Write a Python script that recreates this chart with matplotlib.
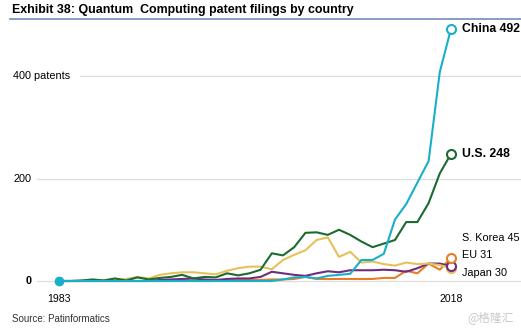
import matplotlib
matplotlib.use("Agg")
import matplotlib.pyplot as plt
import matplotlib.transforms as mtransforms

# data (patent filings per year)
years = list(range(1983, 2019))
china = [0] * 20 + [3, 7, 8, 5, 10, 12, 14, 41, 41, 53, 120, 150, 192, 234, 408, 492]
us = [0, 0, 1, 3, 1, 5, 1, 7, 3, 6, 8, 12, 5, 8, 7, 15, 11,
      15, 22, 54, 50, 66, 94, 95, 90, 100, 90, 77, 66, 73, 80, 115, 115, 152, 210, 248]
yellow = [0, 0, 0, 1, 2, 3, 4, 8, 5, 12, 15, 17, 17, 15, 13, 20, 25,
          28, 28, 23, 41, 51, 60, 80, 85, 47, 57, 36, 38, 33, 30, 36, 33, 34, 31, 25]
purple = [0, 0, 0, 0, 0, 0, 0, 0, 0, 2, 3, 4, 5, 3, 2, 4, 5,
          5, 8, 18, 15, 12, 10, 15, 19, 17, 21, 21, 21, 22, 21, 18, 25, 34, 34, 29]
orange = [0, 0, 0, 0, 0, 0, 0, 0, 0, 0, 1, 1, 1, 1, 1, 1, 2,
          2, 2, 3, 3, 4, 8, 4, 4, 4, 4, 4, 4, 6, 6, 20, 15, 34, 22, 45]

labels_bold = [("China 492", china), ("U.S. 248", us)]
labels_small = ["S. Korea 45", "EU 31", "Japan 30"]
yticks = [0, 200, 400]
ytick_labels = ["0", "200", "400 patents"]
title = "Exhibit 38: Quantum  Computing patent filings by country"
source = "Source: Patinformatics"

C_CHINA = "#1aafc8"
C_US = "#1b6b30"
C_YEL = "#e8c05a"
C_ORA = "#e97d25"
C_PUR = "#6e2e80"

# no narrow face available, so Liberation Sans at smaller sizes to keep the widths
plt.rcParams["font.family"] = ["Liberation Sans", "DejaVu Sans"]

W, H = 521, 332
fig = plt.figure(figsize=(W / 100, H / 100), dpi=100)

# axes: px 37..521 horizontally, px 20..290 vertically
ax = fig.add_axes([37 / W, 1 - 290 / H, (521 - 37) / W, (290 - 20) / H])
ax.set_xlim(1983 - 22 / 11.2, 2018 + 70 / 11.2)
ax.set_ylim(-9 / 0.5125, 261 / 0.5125)
ax.axis("off")

# gridlines
for v in yticks:
    start = 80 if v == 400 else 37
    ax.axhline(v, xmin=(start - 37) / (521 - 37), xmax=1, color="#dddddd", lw=0.9, zorder=0)

lw = 1.5
ax.plot(years, orange, color=C_ORA, lw=lw, zorder=2)
ax.plot(years, purple, color=C_PUR, lw=lw, zorder=2)
ax.plot(years, yellow, color=C_YEL, lw=lw, zorder=2)
ax.plot(years, us, color=C_US, lw=lw, zorder=3)
ax.plot(years, china, color=C_CHINA, lw=lw, zorder=4)

# start dot and end circles
ax.plot(years[0], china[0], "o", color=C_CHINA, ms=6, zorder=5)
for s, c, z in [(yellow, C_YEL, 5), (purple, C_PUR, 6), (orange, C_ORA, 7), (us, C_US, 6), (china, C_CHINA, 6)]:
    ax.plot(years[-1], s[-1], "o", mfc="white", mec=c, mew=1.5, ms=6.5, zorder=z)

# end labels
for txt, s in labels_bold:
    ax.annotate(txt, (years[-1], s[-1]), xytext=(8, 0), textcoords="offset points",
                va="center", ha="left", fontsize=8.8, fontweight="bold")
for i, txt in enumerate(labels_small):
    fig.text(462 / W, 1 - (238 + 17.5 * i) / H, txt, va="center", ha="left", fontsize=7.8)

# y labels
tr = mtransforms.blended_transform_factory(fig.transFigure, ax.transData)
for v, t in zip(yticks, ytick_labels):
    x = 26 / W if v == 0 else 13 / W
    ax.text(x, v, t, transform=tr, va="center", ha="left", fontsize=7.8,
            fontweight="bold" if v == 0 else "normal")

# x labels
for yr in (years[0], years[-1]):
    ax.text(yr, -35, str(yr), ha="center", va="center", fontsize=7.6)

# title with rule
fig.text(12 / W, 1 - 10 / H, title, fontsize=8.9, fontweight="bold", va="center", ha="left")
fig.add_artist(plt.Line2D([10 / W, 1], [1 - 18.5 / H] * 2, color="#7f95bf", lw=1.3))

fig.text(12 / W, 1 - 319 / H, source, fontsize=7, va="center", ha="left", color="#333333")
fig.text(514 / W, 1 - 318 / H, "@格隆汇", fontsize=8.5, va="center", ha="right", color="#c8c8c8",
         family=["Noto Sans CJK SC", "DejaVu Sans"])

fig.savefig("out.png", dpi=100)
